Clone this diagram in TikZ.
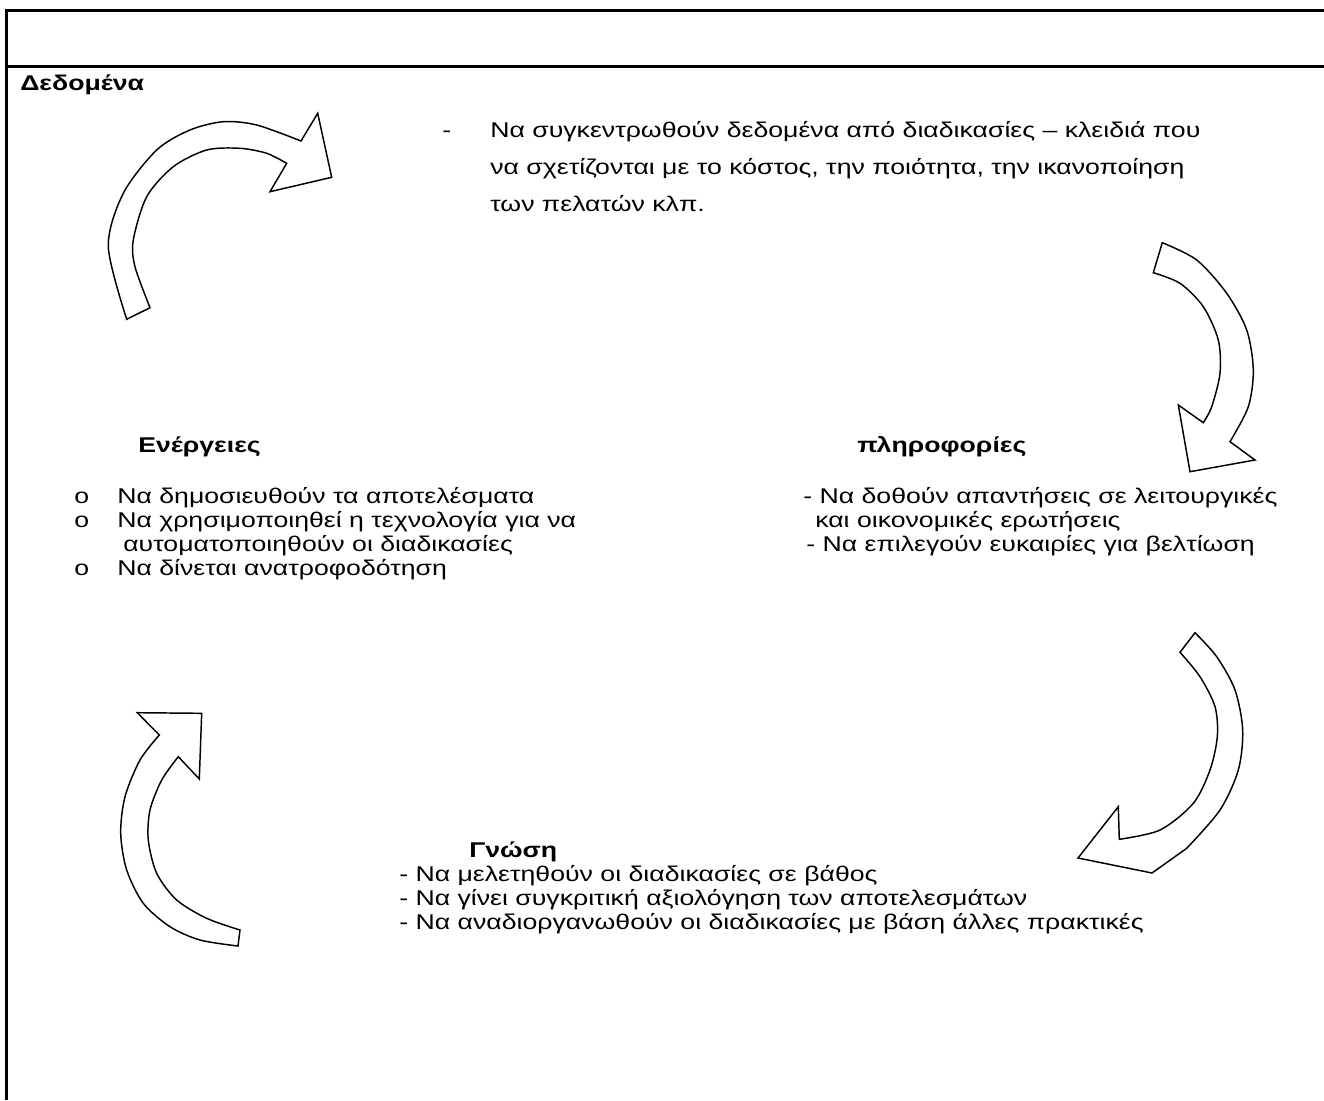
\documentclass[tikz,border=0pt]{standalone}
\usepackage{fontspec}
\setmainfont[FakeStretch=1.25]{Liberation Sans}
\begin{document}
\begin{tikzpicture}[x=0.75pt,y=-0.75pt,
  txt/.style={anchor=base west, inner sep=0pt, font=\fontsize{16}{18}\selectfont},
  hd/.style={anchor=base west, inner sep=0pt, font=\fontsize{16}{18}\selectfont\bfseries},
  frame/.style={line width=2.25pt},
  bendarrow/.style={draw=black, line width=1.1pt, fill=white, line join=miter}]
\useasboundingbox (0,0) rectangle (1324,1100);

% page frame
\draw[frame] (1324,10) -- (6,10) -- (6,1100);
\draw[frame] (6,66) -- (1324,66);

% curved arrows of the cycle
\draw[bendarrow] plot[smooth] coordinates {(126.7,319.3) (108.3,246.7) (123.3,193.3) (156.7,150) (190,130) (223.3,121.7) (256.7,125) (301,141)}
  -- (317.7,113.3) -- (331.7,177.3) -- (270,191.7) -- (286.7,163.3)
  -- plot[smooth] coordinates {(286.7,163.3) (266.7,153.3) (240,148.3) (206.7,150) (173.3,166.7) (146.7,196.7) (133.3,240) (135,266.7) (150,307.7)}
  -- cycle;

\draw[bendarrow] plot[smooth] coordinates {(1162.3,242.7) (1196.7,260) (1226.7,293.3) (1246.7,330) (1253.3,370) (1248.3,406.7) (1230,441.7)}
  -- (1255,460) -- (1190,471.7) -- (1178.3,405) -- (1203.3,422.7)
  -- plot[smooth] coordinates {(1203.3,422.7) (1211.7,406.7) (1220,373.3) (1218.3,340) (1203.3,306.7) (1180,283.3) (1153.3,272.7)}
  -- cycle;

\draw[bendarrow] plot[smooth] coordinates {(1195,632.7) (1216.7,656.7) (1235,690) (1242.7,730) (1238.3,770) (1220,810) (1186.7,848.3)}
  -- (1152,873) -- (1078,858) -- (1118.3,806.7) -- (1119.3,839.3)
  -- plot[smooth] coordinates {(1119.3,839.3) (1160,830) (1193.3,803.3) (1210,770) (1217.3,736.7) (1215,706.7) (1200,676.7) (1180,652.3)}
  -- cycle;

\draw[bendarrow] (137.3,712.7) -- (201.7,713.3) -- (199.3,779) -- (178.3,756.7)
  -- plot[smooth] coordinates {(178.3,756.7) (161.7,780) (150,810) (148.3,840) (156.7,873.3) (176.7,900) (206.7,918.3) (240,930)}
  -- (238,946)
  -- plot[smooth] coordinates {(238,946) (200,940) (170,926.7) (143.3,903.3) (126.7,870) (120.7,833.3) (125,796.7) (140,760) (159.3,735)}
  -- cycle;

% headings
\node[hd] (hdata) at (20,90) {Δεδομένα};
\node[hd] (hact) at (138,452) {Ενέργειες};
\node[hd] (hinfo) at (857,452) {πληροφορίες};
\node[hd] (hknow) at (469,857) {Γνώση};

% data block
\node[txt] (ddash) at (442,137) {-};
\node[txt] (d1) at (490,137) {Να συγκεντρωθούν δεδομένα από διαδικασίες – κλειδιά που};
\node[txt] (d2) at (490,174) {να σχετίζονται με το κόστος, την ποιότητα, την ικανοποίηση};
\node[txt] (d3) at (490,211) {των πελατών κλπ.};

% actions list
\node[txt] (ab1) at (74,503) {o};
\node[txt] (a1) at (117,503) {Να δημοσιευθούν τα αποτελέσματα};
\node[txt] (ab2) at (74,527) {o};
\node[txt] (a2) at (117,527) {Να χρησιμοποιηθεί η τεχνολογία για να};
\node[txt] (a3) at (123,551) {αυτοματοποιηθούν οι διαδικασίες};
\node[txt] (ab3) at (74,575) {o};
\node[txt] (a4) at (117,575) {Να δίνεται ανατροφοδότηση};

% information list
\node[txt] (i1) at (803,503) {- Να δοθούν απαντήσεις σε λειτουργικές};
\node[txt] (i2) at (815,527) {και οικονομικές ερωτήσεις};
\node[txt] (i3) at (806,551) {- Να επιλεγούν ευκαιρίες για βελτίωση};

% knowledge list
\node[txt] (k1) at (399,881) {- Να μελετηθούν οι διαδικασίες σε βάθος};
\node[txt] (k2) at (399,905) {- Να γίνει συγκριτική αξιολόγηση των αποτελεσμάτων};
\node[txt] (k3) at (399,929) {- Να αναδιοργανωθούν οι διαδικασίες με βάση άλλες πρακτικές};
\end{tikzpicture}
\end{document}
